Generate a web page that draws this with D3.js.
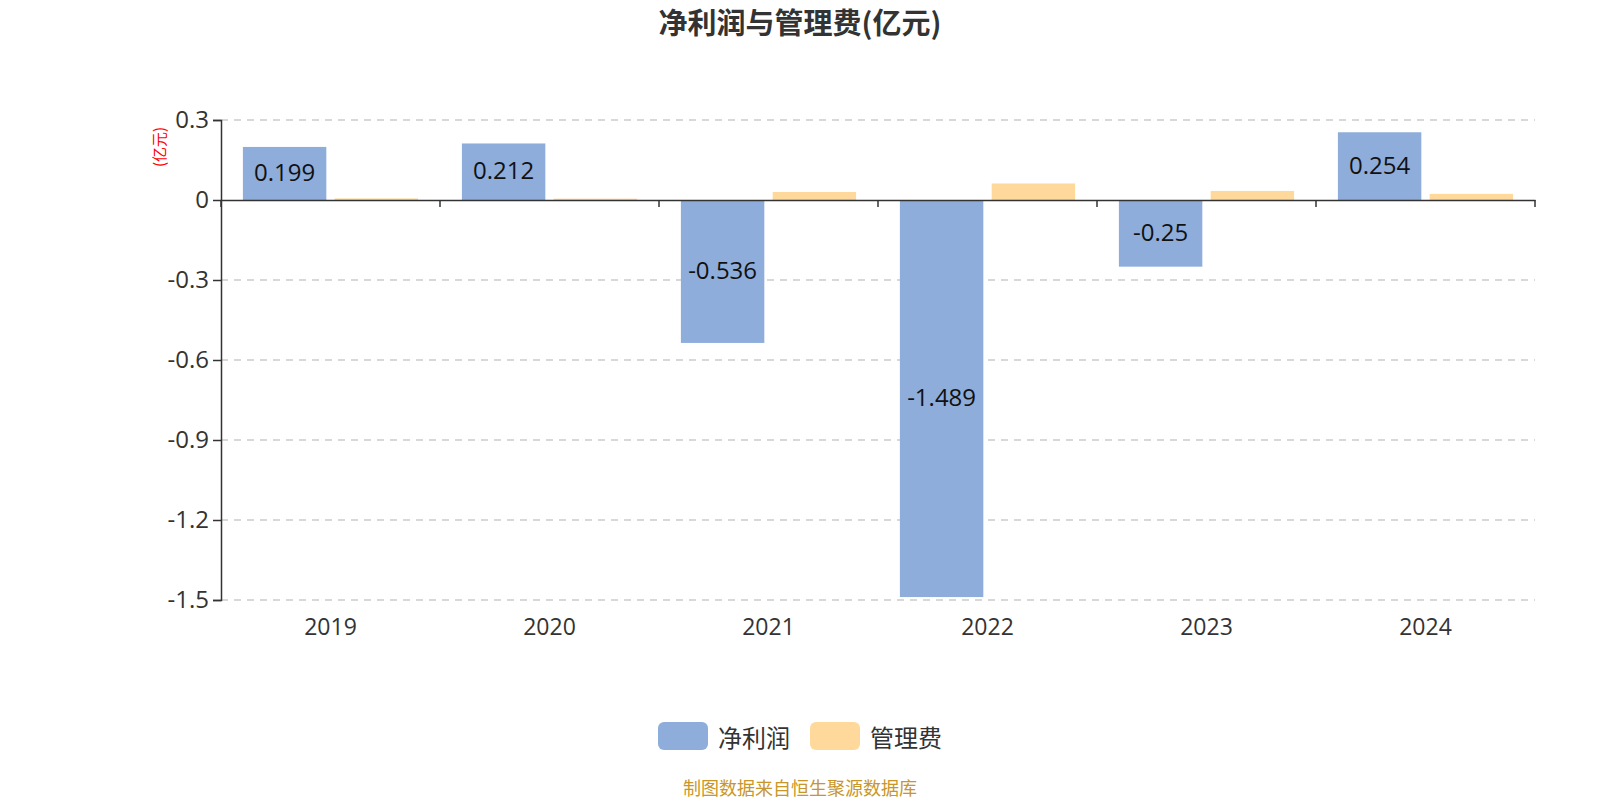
<!DOCTYPE html>
<html>
<head>
<meta charset="utf-8">
<script src="https://cdn.jsdelivr.net/npm/d3@7/dist/d3.min.js"></script>
<style>
  html, body { margin: 0; padding: 0; background: #fff; }
  svg { display: block; font-family: "Open Sans", "Noto Sans CJK SC", sans-serif; }
</style>
</head>
<body>
<svg id="chart" width="1600" height="800"></svg>
<script>
const categories = ["2019", "2020", "2021", "2022", "2023", "2024"];
const netProfit = [0.199, 0.212, -0.536, -1.489, -0.25, 0.254];
const adminFee = [0.006, 0.005, 0.030, 0.062, 0.034, 0.023];
const seriesNames = ["净利润", "管理费"];
const yTicks = [0.3, 0, -0.3, -0.6, -0.9, -1.2, -1.5];
const colors = ["#8eaddb", "#fed99b"];

(function () {
const svg = d3.select("#chart");
const pLeft = 221, pRight = 1535, pTop = 120, pBottom = 600;
const cjk = "'Noto Sans CJK SC', sans-serif";

const x = d3.scaleBand().domain(categories).range([pLeft, pRight]).paddingInner(0).paddingOuter(0);
const y = d3.scaleLinear().domain([-1.5, 0.3]).range([pBottom, pTop]);

const bw = x.bandwidth();
const catGap = bw * 0.2 / 2;
const barW = (bw * 0.8) / 2.1;
const barGap = barW * 0.1;

// title
svg.append("text").attr("x", 800).attr("y", 34).attr("text-anchor", "middle")
  .attr("font-family", cjk)
  .attr("font-size", 29).attr("font-weight", "bold").attr("fill", "#333")
  .text("净利润与管理费(亿元)");

// grid
svg.append("g").selectAll("line").data(yTicks).join("line")
  .attr("x1", pLeft).attr("x2", pRight)
  .attr("y1", d => y(d)).attr("y2", d => y(d))
  .attr("stroke", "#ccc").attr("stroke-width", 1.5).attr("stroke-dasharray", "7,6")
  .attr("display", d => d === 0 ? "none" : null);

// y axis
const yAxis = d3.axisLeft(y).tickValues(yTicks).tickSize(8).tickPadding(4)
  .tickFormat(d => d === 0 ? "0" : String(+d.toFixed(1)));
const gy = svg.append("g").attr("transform", `translate(${pLeft},0)`).call(yAxis);
gy.select(".domain").attr("stroke", "#333").attr("stroke-width", 1.5);
gy.selectAll(".tick line").attr("stroke", "#333").attr("stroke-width", 1.5);
gy.selectAll(".tick text").attr("font-size", 24).attr("fill", "#333")
  .attr("font-family", "'Open Sans', sans-serif");

// unit label
svg.append("text").attr("transform", "translate(158,147) rotate(-90)")
  .attr("text-anchor", "middle").attr("dominant-baseline", "central")
  .attr("font-family", cjk)
  .attr("font-size", 15).attr("fill", "#ff0000").text("(亿元)");

// bars
const data = categories.map((c, i) => ({ c, v: [netProfit[i], adminFee[i]] }));
data.forEach(d => {
  d.v.forEach((v, s) => {
    const x0 = x(d.c) + catGap + s * (barW + barGap);
    svg.append("rect")
      .attr("x", x0).attr("width", barW)
      .attr("y", Math.min(y(v), y(0))).attr("height", Math.abs(y(v) - y(0)))
      .attr("fill", colors[s]);
    if (s === 0) {
      svg.append("text").attr("x", x0 + barW / 2).attr("y", (y(v) + y(0)) / 2 - 2)
        .attr("text-anchor", "middle").attr("dominant-baseline", "central")
        .attr("font-size", 24).attr("fill", "#111").text(String(v));
    }
  });
});

// x axis at zero
const xAxis = d3.axisBottom(x).tickSize(0).tickFormat("");
const gx = svg.append("g").attr("transform", `translate(0,${y(0)})`).call(xAxis);
gx.select(".domain").attr("stroke", "#333").attr("stroke-width", 1.5);
const boundaries = categories.map(c => x(c) + bw).concat([pLeft]);
svg.append("g").selectAll("line").data(boundaries).join("line")
  .attr("x1", d => d).attr("x2", d => d)
  .attr("y1", y(0)).attr("y2", y(0) + 7)
  .attr("stroke", "#333").attr("stroke-width", 1.5);

// x labels at bottom
svg.append("g").selectAll("text").data(categories).join("text")
  .attr("x", d => x(d) + bw / 2).attr("y", 626)
  .attr("text-anchor", "middle").attr("dominant-baseline", "central")
  .attr("font-size", 23).attr("fill", "#333").text(d => d);

// legend
const legendItems = [{ name: seriesNames[0], x: 658 }, { name: seriesNames[1], x: 810 }];
legendItems.forEach((it, i) => {
  svg.append("rect").attr("x", it.x).attr("y", 722).attr("width", 50).attr("height", 28)
    .attr("rx", 6).attr("fill", colors[i]);
  svg.append("text").attr("x", it.x + 60).attr("y", 736).attr("dominant-baseline", "central")
    .attr("font-family", cjk)
    .attr("font-size", 24).attr("fill", "#333").text(it.name);
});

// source
svg.append("text").attr("x", 800).attr("y", 787).attr("text-anchor", "middle")
  .attr("dominant-baseline", "central").attr("font-family", cjk)
  .attr("font-size", 18).attr("fill", "#c9962a").text("制图数据来自恒生聚源数据库");
})();
</script>
</body>
</html>
